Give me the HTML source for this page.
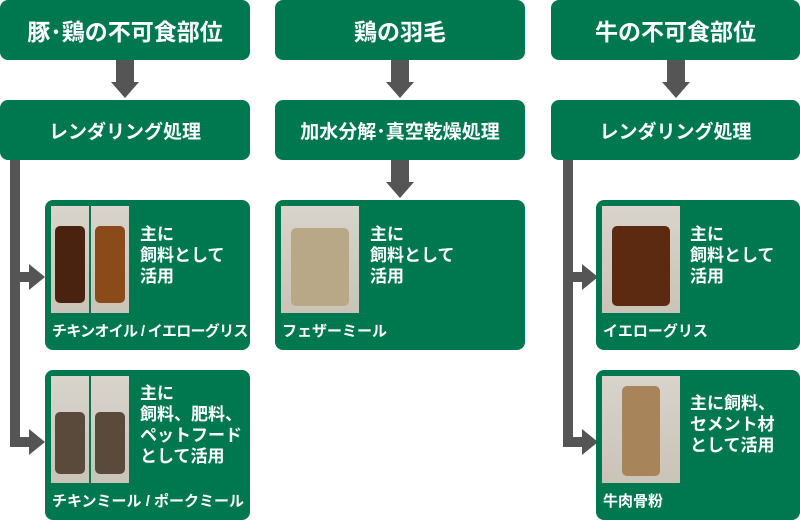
<!DOCTYPE html>
<html><head><meta charset="utf-8"><style>
*{margin:0;padding:0;box-sizing:border-box}
body{width:800px;height:520px;background:#fff;position:relative;overflow:hidden;font-family:"Liberation Sans","Noto Sans CJK JP",sans-serif;color:#fff}
.b{position:absolute;background:#00784f;border-radius:8px}
.h{display:flex;align-items:center;justify-content:center;font-weight:bold}
.g{position:absolute;background:#555}
.t{position:absolute;font-size:17px;line-height:21px;font-weight:bold}
.c{position:absolute;font-size:15px;font-weight:bold;white-space:nowrap}
.p{position:absolute;background:linear-gradient(#d8d4cc,#c9c3b8)}
.tri{position:absolute;width:0;height:0}
.dn{border-left:14px solid transparent;border-right:14px solid transparent;border-top:16px solid #555}
.rt{border-top:13px solid transparent;border-bottom:13px solid transparent;border-left:16px solid #555}
.jar{position:absolute;border-radius:5px}
</style></head><body>
<div class="b h" style="left:0;top:0;width:250px;height:60px;font-size:23px">豚･鶏の不可食部位</div>
<div class="b h" style="left:275px;top:0;width:250px;height:60px;font-size:23px">鶏の羽毛</div>
<div class="b h" style="left:551px;top:0;width:249px;height:60px;font-size:23px">牛の不可食部位</div>

<div class="g" style="left:116px;top:60px;width:18px;height:22px"></div><div class="tri dn" style="left:111px;top:82px"></div>
<div class="g" style="left:391px;top:60px;width:18px;height:22px"></div><div class="tri dn" style="left:386px;top:82px"></div>
<div class="g" style="left:667px;top:60px;width:18px;height:22px"></div><div class="tri dn" style="left:662px;top:82px"></div>

<div class="b h" style="left:0;top:100px;width:250px;height:60px;font-size:19px">レンダリング処理</div>
<div class="b h" style="left:275px;top:100px;width:250px;height:60px;font-size:19px">加水分解･真空乾燥処理</div>
<div class="b h" style="left:551px;top:100px;width:249px;height:60px;font-size:19px">レンダリング処理</div>

<div class="g" style="left:10px;top:160px;width:10px;height:287px"></div>
<div class="g" style="left:20px;top:272px;width:10px;height:10px"></div><div class="tri rt" style="left:29px;top:264px"></div>
<div class="g" style="left:20px;top:437px;width:10px;height:10px"></div><div class="tri rt" style="left:29px;top:429px"></div>
<div class="g" style="left:391px;top:160px;width:18px;height:22px"></div><div class="tri dn" style="left:386px;top:182px"></div>
<div class="g" style="left:563px;top:160px;width:10px;height:287px"></div>
<div class="g" style="left:573px;top:272px;width:10px;height:10px"></div><div class="tri rt" style="left:582px;top:264px"></div>
<div class="g" style="left:573px;top:437px;width:10px;height:10px"></div><div class="tri rt" style="left:582px;top:429px"></div>

<div class="b" style="left:45px;top:200px;width:205px;height:150px"></div>
<div class="p" style="left:51px;top:206px;width:38px;height:107px"><div class="jar" style="left:4px;top:20px;width:30px;height:77px;background:#4a2310"></div></div>
<div class="p" style="left:91px;top:206px;width:38px;height:107px"><div class="jar" style="left:4px;top:20px;width:30px;height:77px;background:#8a4a1a"></div></div>
<div class="t" style="left:140px;top:224px">主に<br>飼料として<br>活用</div>
<div class="c" style="left:52px;top:320px;letter-spacing:-0.7px">チキンオイル / イエローグリス</div>

<div class="b" style="left:45px;top:370px;width:205px;height:150px"></div>
<div class="p" style="left:51px;top:376px;width:38px;height:107px"><div class="jar" style="left:4px;top:36px;width:30px;height:62px;background:#5a4a3c"></div></div>
<div class="p" style="left:91px;top:376px;width:38px;height:107px"><div class="jar" style="left:4px;top:36px;width:30px;height:62px;background:#5a4a3c"></div></div>
<div class="t" style="left:140px;top:383px">主に<br>飼料、肥料、<br>ペットフード<br>として活用</div>
<div class="c" style="left:52px;top:490px">チキンミール / ポークミール</div>

<div class="b" style="left:275px;top:200px;width:250px;height:150px"></div>
<div class="p" style="left:281px;top:206px;width:78px;height:107px"><div class="jar" style="left:10px;top:22px;width:58px;height:78px;background:#b8a888"></div></div>
<div class="t" style="left:370px;top:224px">主に<br>飼料として<br>活用</div>
<div class="c" style="left:282px;top:320px">フェザーミール</div>

<div class="b" style="left:596px;top:200px;width:204px;height:150px"></div>
<div class="p" style="left:602px;top:206px;width:78px;height:107px"><div class="jar" style="left:10px;top:20px;width:58px;height:80px;background:#5c2a10"></div></div>
<div class="t" style="left:690px;top:224px">主に<br>飼料として<br>活用</div>
<div class="c" style="left:603px;top:320px">イエローグリス</div>

<div class="b" style="left:596px;top:370px;width:204px;height:150px"></div>
<div class="p" style="left:602px;top:376px;width:78px;height:107px"><div class="jar" style="left:20px;top:10px;width:38px;height:90px;background:#a8845a"></div></div>
<div class="t" style="left:690px;top:393px">主に飼料、<br>セメント材<br>として活用</div>
<div class="c" style="left:603px;top:490px">牛肉骨粉</div>
</body></html>
